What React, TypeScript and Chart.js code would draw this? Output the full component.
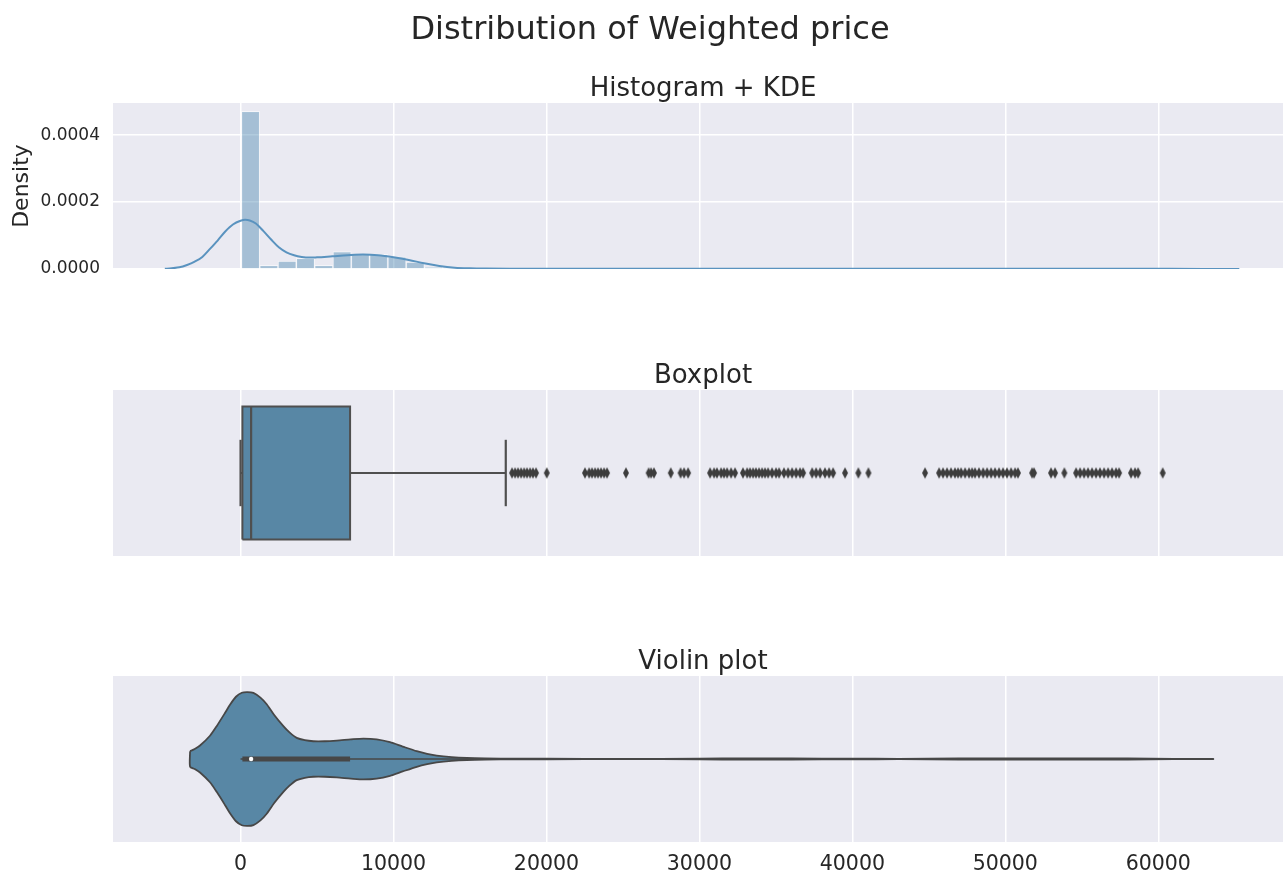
import React, { useEffect, useRef } from 'react';
import { Chart, registerables } from 'chart.js';

Chart.register(...registerables);

// ---------- data ----------

// shared price axis
const xMin = -8340;
const xMax = 68810;
const xTicks = [0, 10000, 20000, 30000, 40000, 50000, 60000];

// histogram (density) of weighted price
const binStart = 55;
const binWidth = 1197;
const binDensity = [
  0.000471, 0.000011, 0.000024, 0.000032, 0.000011, 0.000052, 0.000044, 0.000044,
  0.000036, 0.000021, 0.000005, 0.000003, 0.000002, 0.0000015, 0.000001,
];

// kernel density estimate
const kdeX = [
  -4950, -4000, -3500, -3000, -2500, -2000, -1500, -1000, -500, 0, 300, 600, 1000, 1500,
  2000, 2500, 3000, 3500, 4000, 4500, 5000, 6000, 7000, 8000, 9000, 10000, 11000, 12000,
  13000, 14000, 15000, 16000, 18000, 20000, 25000, 30000, 35000, 40000, 45000, 50000,
  55000, 60000, 63000, 65300,
];
const kdeDensity = [
  0.0000005, 0.000005, 0.000012, 0.000022, 0.000036, 0.00006, 0.000085, 0.000112, 0.000133,
  0.000144, 0.000147, 0.000145, 0.000136, 0.000113, 0.000088, 0.000065, 0.00005, 0.000041,
  0.000036, 0.000034, 0.000035, 0.000038, 0.000041, 0.000043, 0.000041, 0.000035, 0.000027,
  0.000017, 0.000009, 0.000004, 0.000002, 0.0000012, 0.0000008, 0.0000006, 0.0000004,
  0.0000006, 0.0000008, 0.0000005, 0.0000006, 0.0000008, 0.0000008, 0.0000006, 0.0000003,
  0.0000001,
];
const densityTicks = [0, 0.0002, 0.0004];
const densityMax = 0.000496;

// box plot statistics
const whiskerLow = 0;
const q1 = 120;
const median = 690;
const q3 = 7160;
const whiskerHigh = 17340;
const outliers = [
  17750, 17950, 18140, 18340, 18540, 18730, 18930, 19120, 19320, 20020,
  22520, 22790, 22980, 23180, 23370, 23570, 23770, 23960, 25200,
  26680, 26840, 27030, 28130, 28770, 29000, 29260,
  30700, 30960, 31150, 31420, 31610, 31810, 32070, 32330,
  32850, 33120, 33310, 33510, 33700, 33900, 34100, 34290, 34490, 34750, 35010, 35210,
  35530, 35800, 36060, 36320, 36580, 36780,
  37370, 37630, 37890, 38210, 38480, 38740, 39520, 40390, 41050, 44750,
  45670, 45930, 46190, 46450, 46710, 46910, 47110, 47370, 47630, 47830, 48020, 48280,
  48550, 48810, 49070, 49330, 49590, 49850, 50110, 50380, 50640, 50830,
  51750, 51880, 52990, 53250, 53860,
  54630, 54890, 55150, 55410, 55670, 55930, 56190, 56460, 56720, 56980, 57240, 57440,
  58220, 58480, 58680, 60290,
];

// violin outline: half width (category units) along price
const violinX = [
  -3300, -3000, -2650, -2000, -1560, -1000, -690, -300, 80, 450, 840, 1300, 1710, 2200,
  2800, 3200, 3670, 4200, 4760, 5500, 6290, 7200, 8030, 8900, 9770, 10600, 11520, 12200,
  12830, 13800, 14790, 16000, 18000, 20000, 25000, 30000, 33000, 36000, 40000, 43000,
  47000, 50000, 53000, 56000, 58000, 61000, 63600,
];
const violinHalfWidth = [
  0.047, 0.06, 0.081, 0.14, 0.198, 0.28, 0.327, 0.375, 0.399, 0.403, 0.398, 0.37, 0.33,
  0.265, 0.198, 0.16, 0.127, 0.113, 0.107, 0.107, 0.111, 0.118, 0.123, 0.118, 0.101,
  0.075, 0.047, 0.031, 0.02, 0.011, 0.006, 0.0035, 0.002, 0.0015, 0.001, 0.002, 0.004,
  0.003, 0.002, 0.001, 0.003, 0.004, 0.003, 0.004, 0.003, 0.001, 0.0005,
];

// ---------- styling ----------

const FONT = '"DejaVu Sans", "Liberation Sans", sans-serif';
const TEXT = '#262626';
const PANEL_BG = '#eaeaf2';
const BOX_BLUE = '#5887a5';
const KDE_BLUE = '#5a93bf';
const HIST_FILL = 'rgba(70,130,175,0.42)';
const EDGE_GRAY = '#4f4f4f';
const CANVAS_W = 1300;
const PLOT_LEFT = 113;
const PLOT_RIGHT_PAD = 7;

const plotBackground = {
  id: 'plotBackground',
  beforeDraw(chart: any) {
    const { ctx, chartArea: a } = chart;
    ctx.save();
    ctx.fillStyle = PANEL_BG;
    ctx.fillRect(a.left, a.top, a.right - a.left, a.bottom - a.top);
    ctx.restore();
  },
};

const panelTitle = {
  id: 'panelTitle',
  afterDraw(chart: any, _args: any, opts: any) {
    const { ctx, chartArea: a } = chart;
    ctx.save();
    ctx.fillStyle = TEXT;
    ctx.textAlign = 'center';
    ctx.textBaseline = 'alphabetic';
    ctx.font = `${opts.size}px ${FONT}`;
    ctx.fillText(opts.text, (a.left + a.right) / 2, a.top - opts.gap);
    if (opts.suptitle) {
      ctx.font = `${opts.suptitleSize}px ${FONT}`;
      ctx.fillText(opts.suptitle, chart.width / 2, opts.suptitleBaseline);
    }
    ctx.restore();
  },
};

function makeDiamond(): HTMLCanvasElement {
  const c = document.createElement('canvas');
  c.width = 8;
  c.height = 13;
  const g = c.getContext('2d')!;
  g.fillStyle = '#3d3d3d';
  g.beginPath();
  g.moveTo(4, 0.8);
  g.lineTo(7, 6.5);
  g.lineTo(4, 12.2);
  g.lineTo(1, 6.5);
  g.closePath();
  g.fill();
  return c;
}

function priceAxis(showLabels: boolean, axisHeight: number) {
  return {
    type: 'linear',
    min: xMin,
    max: xMax,
    offset: false,
    afterBuildTicks: (s: any) => {
      s.ticks = xTicks.map((v) => ({ value: v }));
    },
    afterFit: (s: any) => {
      s.height = axisHeight;
    },
    grid: { color: '#ffffff', lineWidth: 1.5, drawTicks: false, offset: false },
    border: { display: false },
    ticks: {
      display: showLabels,
      color: TEXT,
      padding: 10,
      maxRotation: 0,
      autoSkip: false,
      font: { family: FONT, size: 20.5 },
      callback: (v: any) => String(v),
    },
  };
}

const categoryAxis = { type: 'linear', min: -0.5, max: 0.5, display: false };

const baseOptions = (paddingTop: number, leftPad: number) => ({
  responsive: false,
  animation: false,
  events: [],
  layout: { padding: { top: paddingTop, left: leftPad, right: PLOT_RIGHT_PAD, bottom: 0 } },
});

function line(data: { x: number; y: number }[], color: string, width: number, order: number, extra: any = {}) {
  return {
    type: 'line',
    data,
    borderColor: color,
    borderWidth: width,
    pointRadius: 0,
    fill: false,
    tension: 0,
    order,
    ...extra,
  };
}

function histogramConfig() {
  return {
    type: 'line',
    data: {
      datasets: [
        line(
          kdeX.map((x, i) => ({ x, y: kdeDensity[i] })),
          KDE_BLUE,
          2,
          1,
          { tension: 0.4, cubicInterpolationMode: 'monotone' }
        ),
        {
          type: 'bar',
          data: binDensity.map((d, i) => ({ x: binStart + (i + 0.5) * binWidth, y: d })),
          backgroundColor: HIST_FILL,
          borderColor: 'rgba(255,255,255,0.5)',
          borderWidth: 1,
          borderSkipped: 'bottom',
          barPercentage: 1,
          categoryPercentage: 1,
          order: 2,
        },
      ],
    },
    options: {
      ...baseOptions(103, 0),
      plugins: {
        legend: { display: false },
        tooltip: { enabled: false },
        panelTitle: {
          text: 'Histogram + KDE',
          size: 26,
          gap: 7,
          suptitle: 'Distribution of Weighted price',
          suptitleSize: 32,
          suptitleBaseline: 39,
        },
      },
      scales: {
        x: priceAxis(false, 26),
        y: {
          type: 'linear',
          min: 0,
          max: densityMax,
          afterBuildTicks: (s: any) => {
            s.ticks = densityTicks.map((v) => ({ value: v }));
          },
          afterFit: (s: any) => {
            s.width = PLOT_LEFT;
          },
          grid: { color: '#ffffff', lineWidth: 1.5, drawTicks: false },
          border: { display: false },
          ticks: {
            color: TEXT,
            padding: 13,
            font: { family: FONT, size: 17 },
            callback: (v: any) => Number(v).toFixed(4),
          },
          title: {
            display: true,
            text: 'Density',
            color: TEXT,
            font: { family: FONT, size: 22 },
            padding: { top: 9, bottom: 0 },
          },
        },
      },
    },
    plugins: [plotBackground, panelTitle],
  };
}

function boxplotConfig() {
  const diamond = makeDiamond();
  return {
    type: 'line',
    data: {
      datasets: [
        line([{ x: median, y: -0.4 }, { x: median, y: 0.4 }], EDGE_GRAY, 2.2, 1),
        {
          type: 'line',
          data: outliers.map((x) => ({ x, y: 0 })),
          showLine: false,
          pointStyle: diamond,
          pointRadius: 3,
          order: 2,
        },
        line([{ x: whiskerLow, y: 0 }, { x: q1, y: 0 }], EDGE_GRAY, 2, 3),
        line([{ x: q3, y: 0 }, { x: whiskerHigh, y: 0 }], EDGE_GRAY, 2, 3),
        line([{ x: whiskerLow, y: -0.2 }, { x: whiskerLow, y: 0.2 }], EDGE_GRAY, 2.2, 3),
        line([{ x: whiskerHigh, y: -0.2 }, { x: whiskerHigh, y: 0.2 }], EDGE_GRAY, 2.2, 3),
        line(
          [
            { x: q1, y: -0.4 },
            { x: q3, y: -0.4 },
            { x: q3, y: 0.4 },
            { x: q1, y: 0.4 },
            { x: q1, y: -0.4 },
          ],
          EDGE_GRAY,
          2,
          5,
          { fill: 'shape', backgroundColor: BOX_BLUE, borderJoinStyle: 'miter' }
        ),
      ],
    },
    options: {
      ...baseOptions(90, PLOT_LEFT),
      plugins: {
        legend: { display: false },
        tooltip: { enabled: false },
        panelTitle: { text: 'Boxplot', size: 26, gap: 7 },
      },
      scales: { x: priceAxis(false, 19), y: categoryAxis },
    },
    plugins: [plotBackground, panelTitle],
  };
}

function violinConfig() {
  const upper = violinX.map((x, i) => ({ x, y: violinHalfWidth[i] }));
  const lower = violinX.map((x, i) => ({ x, y: -violinHalfWidth[i] })).reverse();
  const outline = [...upper, ...lower, upper[0]];
  const innerWhiskerHigh = q3 + 1.5 * (q3 - q1);
  return {
    type: 'line',
    data: {
      datasets: [
        {
          type: 'line',
          data: [{ x: median, y: 0 }],
          showLine: false,
          pointRadius: 2.2,
          pointBorderWidth: 0,
          pointBackgroundColor: '#ffffff',
          order: 1,
        },
        line([{ x: q1, y: 0 }, { x: q3, y: 0 }], '#474747', 5, 2),
        line([{ x: whiskerLow, y: 0 }, { x: innerWhiskerHigh, y: 0 }], '#474747', 1.6, 3),
        line(outline, '#474747', 1.8, 5, {
          fill: 'shape',
          backgroundColor: BOX_BLUE,
          tension: 0.25,
          borderJoinStyle: 'round',
        }),
      ],
    },
    options: {
      ...baseOptions(86, PLOT_LEFT),
      plugins: {
        legend: { display: false },
        tooltip: { enabled: false },
        panelTitle: { text: 'Violin plot', size: 26, gap: 7 },
      },
      scales: { x: priceAxis(true, 34), y: categoryAxis },
    },
    plugins: [plotBackground, panelTitle],
  };
}

function ChartCanvas({ top, height, build }: { top: number; height: number; build: () => any }) {
  const ref = useRef<HTMLCanvasElement>(null);
  useEffect(() => {
    const chart = new Chart(ref.current as HTMLCanvasElement, build());
    return () => chart.destroy();
  }, [build]);
  return (
    <canvas
      ref={ref}
      width={CANVAS_W}
      height={height}
      style={{ position: 'absolute', left: 0, top, width: CANVAS_W, height }}
    />
  );
}

export default function App() {
  return (
    <div
      style={{
        position: 'fixed',
        left: 0,
        top: 0,
        width: 1283,
        height: 876,
        overflow: 'hidden',
        background: '#ffffff',
      }}
    >
      <ChartCanvas top={0} height={295} build={histogramConfig} />
      <ChartCanvas top={300} height={275} build={boxplotConfig} />
      <ChartCanvas top={590} height={286} build={violinConfig} />
    </div>
  );
}
